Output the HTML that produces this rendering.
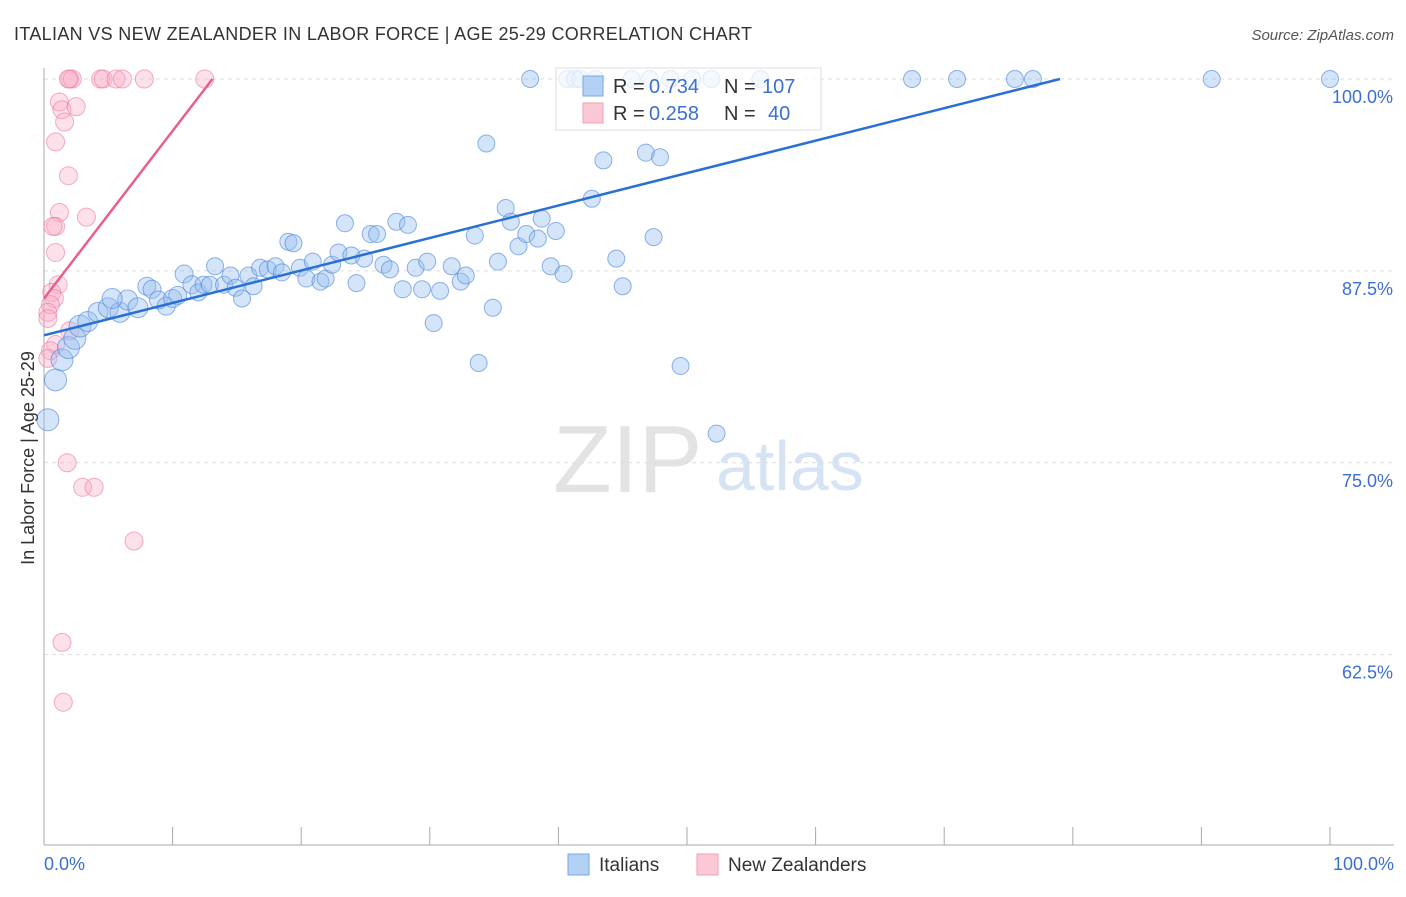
<!DOCTYPE html>
<html><head><meta charset="utf-8"><style>
body{margin:0;background:#fff;font-family:"Liberation Sans",sans-serif}
svg text{font-family:"Liberation Sans",sans-serif}
</style></head><body>
<svg id="c" width="1406" height="892" viewBox="0 0 1406 892" xmlns="http://www.w3.org/2000/svg">
<text x="14" y="40" font-size="18" fill="#333" textLength="738">ITALIAN VS NEW ZEALANDER IN LABOR FORCE | AGE 25-29 CORRELATION CHART</text>
<text x="1394" y="40" font-size="15" fill="#555" text-anchor="end" font-style="italic">Source: ZipAtlas.com</text>
<g>
<text x="553" y="492" font-size="96" fill="#e3e3e3" font-family="Liberation Serif,serif">ZIP</text>
<text x="716" y="490" font-size="70" fill="#d6e3f5">atlas</text>
</g>
<g id="grid"></g><g id="axes"></g><g id="marks"></g>
<text transform="translate(34,458) rotate(-90)" font-size="18" fill="#333" text-anchor="middle">In Labor Force | Age 25-29</text>
<g>
<rect x="556" y="68" width="265" height="62" fill="#fff" fill-opacity="0.75" stroke="#ddd"/>
<rect x="583" y="76" width="20" height="20" fill="#b3d0f5" stroke="#7aa6e8"/>
<rect x="583" y="103" width="20" height="20" fill="#fcc8d6" stroke="#f0a0b8"/>
<text x="613" y="93" font-size="20" fill="#333">R =</text>
<text x="649" y="93" font-size="20" fill="#3b6fd4">0.734</text>
<text x="724" y="93" font-size="20" fill="#333">N =</text>
<text x="762" y="93" font-size="20" fill="#3b6fd4">107</text>
<text x="613" y="120" font-size="20" fill="#333">R =</text>
<text x="649" y="120" font-size="20" fill="#3b6fd4">0.258</text>
<text x="724" y="120" font-size="20" fill="#333">N =</text>
<text x="768" y="120" font-size="20" fill="#3b6fd4">40</text>
</g>
<g>
<rect x="568" y="854" width="21" height="21" fill="#b3d0f5" stroke="#7aa6e8"/>
<text x="599" y="871" font-size="19" fill="#333">Italians</text>
<rect x="697" y="854" width="21" height="21" fill="#fcc8d6" stroke="#f0a0b8"/>
<text x="728" y="871" font-size="19" fill="#333">New Zealanders</text>
</g>
</svg>
<script>
const blueX=[0.9,0.3,1.4,1.9,2.4,2.8,3.4,4.2,5.0,5.9,6.5,5.3,7.3,8.0,8.4,8.9,9.5,10.0,10.4,10.9,11.5,12.0,12.4,12.9,13.3,14.0,14.5,14.9,15.4,15.9,16.3,16.8,17.4,18.0,18.5,19.0,19.4,19.9,20.4,20.9,21.5,21.9,22.4,22.9,23.4,23.9,24.3,24.9,25.4,25.9,26.4,26.9,27.4,27.9,28.3,28.9,29.4,29.8,30.3,30.8,31.7,32.4,32.8,33.5,33.8,34.4,34.9,35.3,35.9,36.3,36.9,37.5,38.4,38.7,39.4,39.8,40.4,42.6,43.5,44.5,45.0,46.8,47.9,47.4,49.5,52.3,37.8,40.7,41.3,41.7,42.9,45.7,47.1,48.7,50.4,51.9,55.7,67.5,71.0,75.5,76.9,90.8,100];
const blueY=[80.4,77.8,81.7,82.5,83.1,83.9,84.2,84.8,85.1,84.8,85.6,85.7,85.1,86.5,86.3,85.6,85.2,85.7,85.9,87.3,86.6,86.1,86.6,86.6,87.8,86.6,87.2,86.4,85.7,87.2,86.5,87.7,87.6,87.8,87.4,89.4,89.3,87.7,87.0,88.1,86.8,87.0,87.9,88.7,90.6,88.5,86.7,88.3,89.9,89.9,87.9,87.6,90.7,86.3,90.5,87.7,86.3,88.1,84.1,86.2,87.8,86.8,87.2,89.8,81.5,95.8,85.1,88.1,91.6,90.7,89.1,89.9,89.6,90.9,87.8,90.1,87.3,92.2,94.7,88.3,86.5,95.2,94.9,89.7,81.3,76.9,100,100,100,100,100,100,100,100,100,100,100,100,100,100,100,100,100];
const pinkX=[2.0,2.2,1.9,4.4,4.6,5.6,6.1,7.8,12.5,1.2,1.4,2.5,1.6,0.9,1.9,1.2,3.3,0.9,0.7,0.9,1.1,0.6,0.8,0.5,0.3,0.3,2.0,0.9,0.5,0.3,1.8,3.0,3.9,7.0,1.4,1.5];
const pinkY=[100,100,100,100,100,100,100,100,100,98.5,98.0,98.2,97.2,95.9,93.7,91.3,91.0,90.4,90.4,88.7,86.6,86.1,85.7,85.3,84.8,84.4,83.6,82.7,82.3,81.8,75.0,73.4,73.4,69.9,63.3,59.4];
const blueTrend=[0,83.3,79,100];
const pinkTrend=[0,85.7,13.1,100];
const yTicks=[100,87.5,75,62.5];
const yTickLabels=["100.0%","87.5%","75.0%","62.5%"];
const xTicks=[0,10,20,30,40,50,60,70,80,90,100];
const NS="http://www.w3.org/2000/svg";
const X=v=>44+v*12.86, Y=v=>79+(100-v)*15.35;
function mk(p,t,a){const e=document.createElementNS(NS,t);for(const k in a)e.setAttribute(k,a[k]);document.getElementById(p).appendChild(e);return e;}
yTicks.forEach((v,i)=>{
 const l=mk('grid','line',{x1:44,x2:1394,y1:Y(v),y2:Y(v),stroke:'#ddd','stroke-dasharray':'4,4'});
 
 
 const t=mk('grid','text',{x:1393,y:Y(v)+24,'font-size':18,fill:'#3b6fd4','text-anchor':'end'});
 t.textContent=yTickLabels[i];
 
 
});
let a=mk('axes','line',{x1:44,x2:44,y1:68,y2:845,stroke:'#aaa'});


a=mk('axes','line',{x1:44,x2:1394,y1:845,y2:845,stroke:'#aaa'});


xTicks.forEach(v=>{const t=mk('axes','line',{x1:X(v),x2:X(v),y1:827,y2:845,stroke:'#aaa'});
 
 });
let t=mk('axes','text',{x:44,y:870,'font-size':18,fill:'#3b6fd4'});t.textContent='0.0%';


t=mk('axes','text',{x:1394,y:870,'font-size':18,fill:'#3b6fd4','text-anchor':'end'});t.textContent='100.0%';


pinkX.forEach((x,i)=>{const c=mk('marks','circle',{cx:X(x),cy:Y(pinkY[i]),r:9,fill:'rgba(248,170,195,0.35)',stroke:'rgba(235,120,155,0.6)'});
 
 });
blueX.forEach((x,i)=>{const r=x<3?11:(x<8?10:(x<12?9:8.5));const c=mk('marks','circle',{cx:X(x),cy:Y(blueY[i]),r:r,fill:'rgba(150,190,240,0.4)',stroke:'rgba(70,130,220,0.6)'});
 
 });
let L=mk('marks','line',{x1:X(blueTrend[0]),y1:Y(blueTrend[1]),x2:X(blueTrend[2]),y2:Y(blueTrend[3]),stroke:'#2a6fd6','stroke-width':2.5});


L=mk('marks','line',{x1:X(pinkTrend[0]),y1:Y(pinkTrend[1]),x2:X(pinkTrend[2]),y2:Y(pinkTrend[3]),stroke:'#e8608a','stroke-width':2.5});


</script>
</body></html>
